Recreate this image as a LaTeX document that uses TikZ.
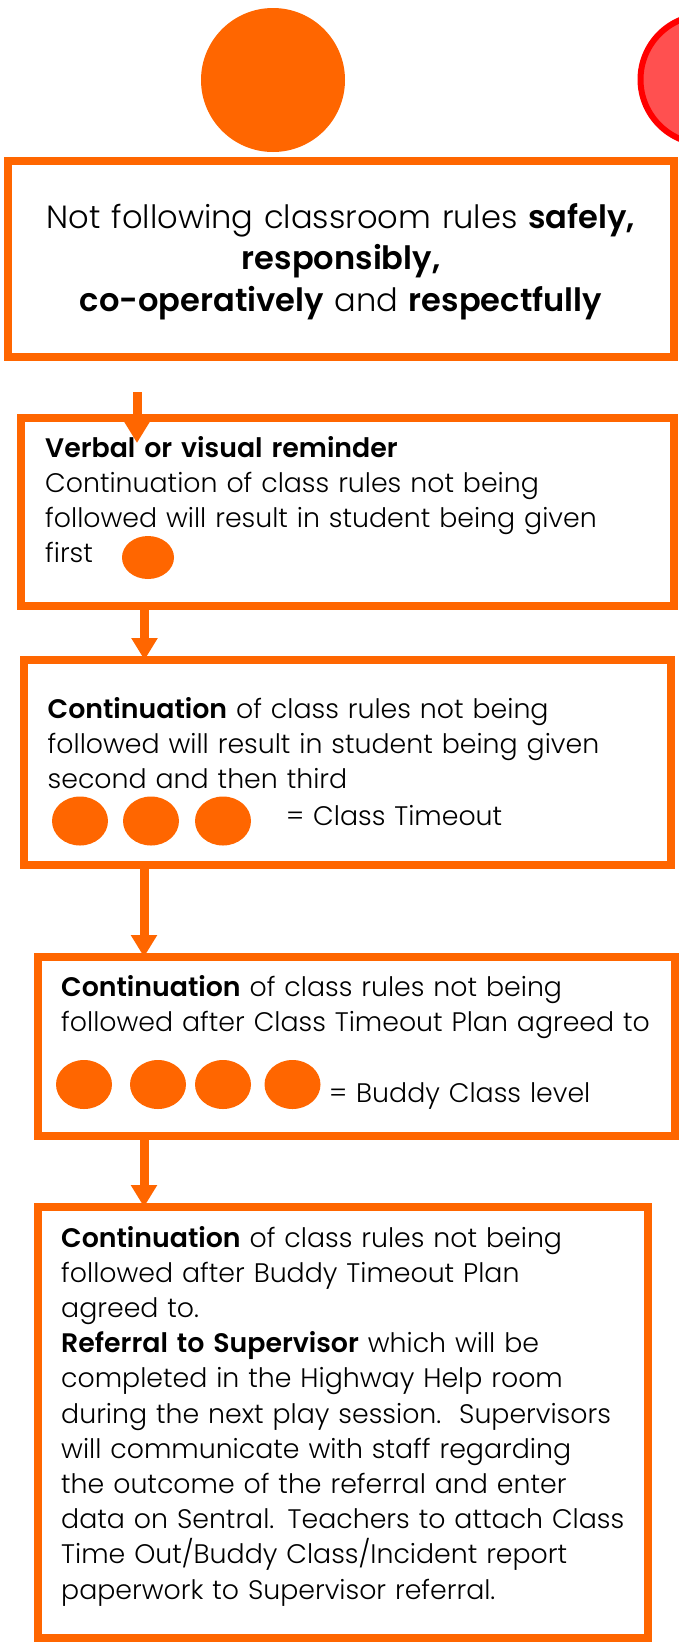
\documentclass[tikz,border=0pt]{standalone}
\usepackage{fontspec}
\setmainfont{Poppins}[UprightFont=* Light,BoldFont=* SemiBold]
\usetikzlibrary{arrows.meta,shapes.geometric,positioning}
\definecolor{flame}{HTML}{FF6600}
\definecolor{alarm}{HTML}{FF0000}
\definecolor{alarmfill}{HTML}{FF5050}
\begin{document}
\begin{tikzpicture}[x=1pt,y=-1pt,
  box node/.style={draw=flame,line width=8pt,inner sep=0pt,outer sep=0pt},
  body text/.style={anchor=base west,inner sep=0pt,text width=615pt,align=left,
  font=\fontsize{26.8}{35.2}\selectfont},
  dot node/.style={ellipse,fill=flame,inner sep=0pt,minimum width=56pt,minimum height=49pt},
  flow/.style={draw=flame,line width=9pt,-{Triangle[width=25pt,length=22pt]}}]

  \path[use as bounding box,fill=white] (0,0) rectangle (678,1642);

  % level lights at the top
  \node[circle,fill=flame,inner sep=0pt,minimum size=144pt] (amber) at (273,80) {};
  \node[circle,draw=alarm,fill=alarmfill,line width=6pt,inner sep=0pt,outer sep=0pt,
    minimum size=129pt] (red) at (705,79.5) {};

  \node[box node,minimum width=666pt,minimum height=196pt] (b1) at (341,259) {};
  \node[box node,minimum width=653pt,minimum height=188pt] (b2) at (347.5,512) {};
  \node[box node,minimum width=647pt,minimum height=205pt] (b3) at (347.5,762.5) {};
  \node[box node,minimum width=637pt,minimum height=179pt] (b4) at (356.5,1046.5) {};
  \node[box node,minimum width=610.5pt,minimum height=431pt] (b5) at (342.75,1422.5) {};

  \node[anchor=base,inner sep=0pt,text width=666pt,align=center,
    font=\fontsize{32.1}{41.5}\selectfont] (t1) at (341,228)
    {Not following classroom rules \textbf{safely,}\\ \textbf{responsibly,}\\
     \textbf{co-operatively} and \textbf{respectfully}};

  \node[body text] (t2) at (45,457) {\textbf{Verbal or visual reminder}\\
    Continuation of class rules not being\\
    followed will result in student being given\\ first};
  \node[dot node,minimum width=52pt,minimum height=43pt] (d2) at (148,557.5) {};

  \node[body text] (t3) at (47.5,718) {\textbf{Continuation} of class rules not being\\
    followed will result in student being given\\ second and then third};
  \node[dot node] (d3a) at (80,821) {};
  \node[dot node] (d3b) at (151,821) {};
  \node[dot node] (d3c) at (223,821) {};
  \node[body text,text width=300pt] (l3) at (286,825) {= Class Timeout};

  \node[body text] (t4) at (61,996) {\textbf{Continuation} of class rules not being\\
    followed after Class Timeout Plan agreed to};
  \node[dot node] (d4a) at (84,1084.5) {};
  \node[dot node] (d4b) at (158,1084.5) {};
  \node[dot node] (d4c) at (223,1084.5) {};
  \node[dot node] (d4d) at (292.5,1084.5) {};
  \node[body text,text width=300pt] (l4) at (329,1102) {= Buddy Class level};

  \node[body text] (t5) at (61,1247) {\textbf{Continuation} of class rules not being\\
    followed after Buddy Timeout Plan\\ agreed to.\\
    \textbf{Referral to Supervisor} which will be\\
    completed in the Highway Help room\\
    during the next play session.\ \ Supervisors\\
    will communicate with staff regarding\\
    the outcome of the referral and enter\\
    data on Sentral. Teachers to attach Class\\
    Time Out/Buddy Class/Incident report\\
    paperwork to Supervisor referral.};

  % arrows between the stages
  \coordinate (a1) at (137,392);
  \coordinate (x2) at (144.5,0);
  \coordinate (x3) at (144,0);
  \draw[flow,shorten >=-25pt] (a1) -- (b2.north -| a1);
  \draw[flow] (b2.south -| x2) -- (b3.north -| x2);
  \draw[flow] (b3.south -| x3) -- (b4.north -| x3);
  \draw[flow] (b4.south -| x3) -- (b5.north -| x3);
\end{tikzpicture}
\end{document}
